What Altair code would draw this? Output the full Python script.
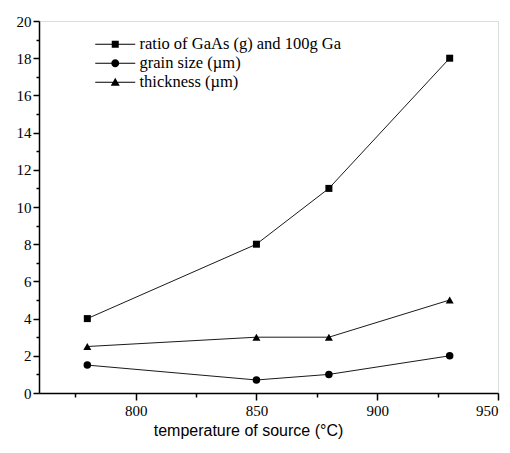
import altair as alt
import pandas as pd

temperature = [780, 850, 880, 930]
ratio = [4, 8, 11, 18]
grain = [1.5, 0.7, 1.0, 2.0]
thickness = [2.5, 3, 3, 5]
series_names = ["ratio of GaAs (g) and 100g Ga", "grain size (µm)", "thickness (µm)"]

rows = []
for name, vals in zip(series_names, [ratio, grain, thickness]):
    for t, v in zip(temperature, vals):
        rows.append({"temperature": t, "value": v, "series": name})
df = pd.DataFrame(rows)

serif = "Liberation Serif"
sans = "Liberation Sans"

x_axis = alt.Axis(
    values=[775, 800, 825, 850, 875, 900, 925, 950],
    labelExpr="datum.value % 50 == 0 ? datum.label : ''",
    tickSize={"condition": {"test": "datum.value % 50 != 0", "value": 4}, "value": 7},
    labelFont=serif, labelFontSize=15, labelColor="black", labelPadding=3,
    domainColor="black", domainWidth=1.5, tickColor="black", tickWidth=1.5,
    grid=False, title="temperature of source (°C)", titleFont=sans,
    titleFontSize=16, titleFontWeight="normal", titleColor="black",
    titleX=209, titleY=37, titleAlign="center", titleBaseline="middle",
)
y_axis = alt.Axis(
    values=list(range(0, 21)),
    labelExpr="datum.value % 2 == 0 ? datum.label : ''",
    tickSize={"condition": {"test": "datum.value % 2 != 0", "value": 3}, "value": 6},
    labelFont=serif, labelFontSize=15, labelColor="black", labelPadding=2,
    domainColor="black", domainWidth=1.5, tickColor="black", tickWidth=1.5,
    grid=False, title=None,
)

base = alt.Chart(df).encode(
    x=alt.X("temperature:Q", scale=alt.Scale(domain=[760, 950], nice=False, zero=False), axis=x_axis),
    y=alt.Y("value:Q", scale=alt.Scale(domain=[0, 20], nice=False), axis=y_axis),
)

lines = base.mark_line(color="black", strokeWidth=0.9).encode(detail="series:N")

points = base.mark_point(filled=True, color="black", opacity=1).encode(
    shape=alt.Shape("series:N", scale=alt.Scale(domain=series_names, range=["square", "circle", "triangle-up"]), legend=None),
    size=alt.Size("series:N", scale=alt.Scale(domain=series_names, range=[49, 64, 80]), legend=None),
)

# legend symbols: thin filled bars either side of the marker (unit = 5px)
path_sq = "M-4,-0.11H-0.7V0.11H-4Z M0.7,-0.11H4V0.11H0.7Z M-0.7,-0.7H0.7V0.7H-0.7Z"
path_ci = ("M-4,-0.11H-0.79V0.11H-4Z M0.79,-0.11H4V0.11H0.79Z "
           "M0.8,0A0.8,0.8 0 1,1 -0.8,0A0.8,0.8 0 1,1 0.8,0Z")
path_tr = "M-4,-0.11H-0.5V0.11H-4Z M0.5,-0.11H4V0.11H0.5Z M0,-0.9L0.9,0.7H-0.9Z"

legend_layer = base.mark_point(filled=True, color="black", opacity=0).encode(
    shape=alt.Shape(
        "series:N",
        scale=alt.Scale(domain=series_names, range=[path_sq, path_ci, path_tr]),
        legend=alt.Legend(
            title=None, orient="none", legendX=68, legendY=15,
            symbolSize=100, symbolOpacity=1, symbolFillColor="black",
            labelFont=serif, labelFontSize=16.5, labelColor="black",
            labelOffset=16, rowPadding=2, labelLimit=400,
        ),
    ),
)

chart = alt.layer(lines, points, legend_layer).resolve_scale(
    shape="independent", size="independent"
).resolve_legend(shape="independent").properties(
    width=459, height=372,
    autosize=alt.AutoSizeParams(type="none"),
    padding={"left": 39, "top": 21, "right": 12, "bottom": 60},
).configure_view(stroke=None).configure(background="white").configure_axis(
    labelFont=serif
)

chart.save("out.html", embed_options={"renderer": "svg", "actions": False})
